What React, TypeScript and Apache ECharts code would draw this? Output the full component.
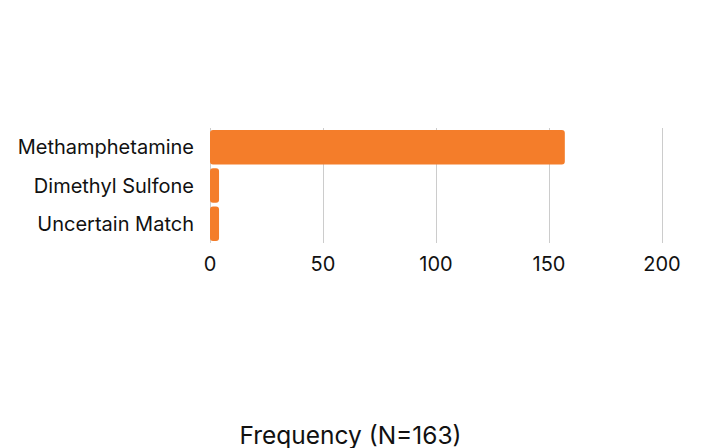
import React, { useEffect, useRef } from "react";
import * as echarts from "echarts";

const categories = ["Methamphetamine", "Dimethyl Sulfone", "Uncertain Match"];
const values = [157, 4, 4];
const axisTitle = "Frequency (N=163)";

export default function App() {
  const ref = useRef<HTMLDivElement>(null);
  useEffect(() => {
    if (!ref.current) return;
    const chart = echarts.init(ref.current, null, { renderer: "svg" });
    const font = "Inter, 'Noto Sans', sans-serif";
    chart.setOption({
      animation: false,
      title: {
        text: axisTitle,
        left: "center",
        top: 417,
        textStyle: { fontSize: 24.5, fontWeight: "normal", color: "#111", fontFamily: font },
      },
      grid: { left: 210, right: 39, top: 128, bottom: 205, containLabel: false, outerBoundsMode: "none" },
      xAxis: {
        type: "value",
        min: 0,
        max: 200,
        interval: 50,
        axisLine: { show: false },
        axisTick: { show: false },
        axisLabel: { fontSize: 20, color: "#111", fontFamily: font, margin: 11 },
        splitLine: { show: true, lineStyle: { color: "#cccccc", width: 1 } },
      },
      yAxis: {
        type: "category",
        data: categories,
        inverse: true,
        axisLine: { show: false },
        axisTick: { show: false },
        axisLabel: { fontSize: 20, color: "#111", fontFamily: font, margin: 16 },
        splitLine: { show: false },
      },
      series: [
        {
          type: "bar",
          data: values,
          barCategoryGap: "10%",
          itemStyle: { color: "#F47D2A", borderRadius: 3 },
        },
      ],
    });
    return () => chart.dispose();
  }, []);
  return <div ref={ref} style={{ width: 701, height: 448, position: "absolute", left: 0, top: 0 }} />;
}
